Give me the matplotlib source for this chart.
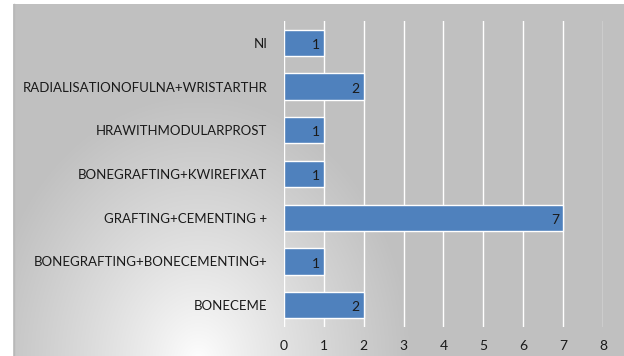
import numpy as np
import matplotlib
matplotlib.use("Agg")
import matplotlib.pyplot as plt

# data (top to bottom as in the picture)
procedures = [
    "NI",
    "RADIALISATIONOFULNA+WRISTARTHR",
    "HRAWITHMODULARPROST",
    "BONEGRAFTING+KWIREFIXAT",
    "GRAFTING+CEMENTING +",
    "BONEGRAFTING+BONECEMENTING+",
    "BONECEME",
]
counts = [1, 2, 1, 1, 7, 1, 2]
xticks = [0, 1, 2, 3, 4, 5, 6, 7, 8]

plt.rcParams['font.family'] = ['Lato', 'DejaVu Sans']

W, H = 624, 356
fig = plt.figure(figsize=(W / 100, H / 100), dpi=100)
fig.patch.set_facecolor("white")

# chart-area background: radial gradient, white near bottom-left-center, gray elsewhere
bg = fig.add_axes([13 / W, 0, (W - 13) / W, (H - 4) / H])
bw, bh = W - 13, H - 4
yy, xx = np.mgrid[0:bh, 0:bw]
d = np.sqrt(((xx - 185) / 1.0) ** 2 + ((yy - bh - 5) / 1.25) ** 2)
t = np.clip(d / 215.0, 0, 1) ** 0.85
val = 255 - (255 - 192) * t
img = np.dstack([val, val, val]) / 255.0
bg.imshow(img, aspect="auto", interpolation="bilinear")
bg.set_axis_off()
fig.lines.append(plt.Line2D([13.5 / W, 13.5 / W], [0, (H - 4) / H],
                            transform=fig.transFigure, color="#b8b8b8", lw=1))

ax = fig.add_axes([284 / W, 1 - 327 / H, (603 - 284) / W, (327 - 21) / H])
ax.set_facecolor("none")

ypos = np.arange(len(procedures))[::-1]
bars = ax.barh(ypos, counts, height=0.6, color="#4f81bd",
               edgecolor="white", linewidth=1, zorder=3)
for y, v in zip(ypos, counts):
    ax.text(v - 0.1, y - 0.05, str(v), ha="right", va="center",
            fontsize=10, color="#1a1a1a", zorder=4)

ax.set_xlim(0, 8)
ax.set_ylim(-0.5, len(procedures) - 0.5)
ax.set_xticks(xticks)
ax.set_yticks(ypos)
ax.set_yticklabels(procedures)
ax.grid(axis="x", color="white", lw=1, zorder=0)
ax.tick_params(length=0, labelsize=9.5, colors="#1a1a1a")
ax.tick_params(axis="y", pad=12)
ax.tick_params(axis="x", pad=9, labelsize=10)
for s in ax.spines.values():
    s.set_visible(False)

fig.savefig("out.png", dpi=100)
